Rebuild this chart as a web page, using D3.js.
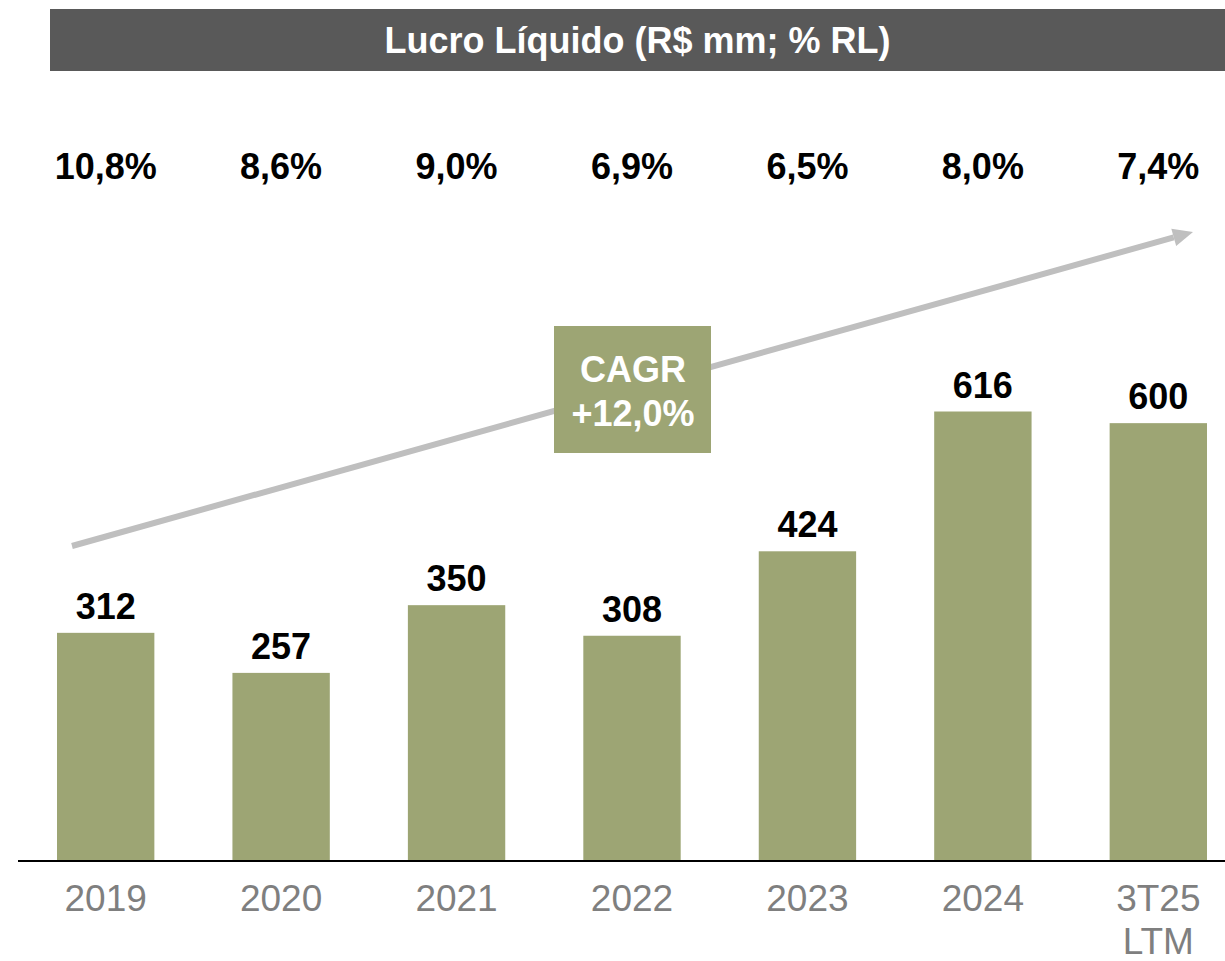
<!DOCTYPE html>
<html>
<head>
<meta charset="utf-8">
<script src="https://cdn.jsdelivr.net/npm/d3@7/dist/d3.min.js"></script>
<style>
  html, body { margin: 0; padding: 0; background: #fff; }
  svg { display: block; font-family: Arial, "Liberation Sans", sans-serif; }
</style>
</head>
<body>
<svg id="chart" width="1225" height="961"></svg>
<script>
const title = "Lucro Líquido (R$ mm; % RL)";
const categories = ["2019", "2020", "2021", "2022", "2023", "2024", "3T25 LTM"];
const categoryLines = [["2019"], ["2020"], ["2021"], ["2022"], ["2023"], ["2024"], ["3T25", "LTM"]];
const netIncome = [312, 257, 350, 308, 424, 616, 600];
const marginLabels = ["10,8%", "8,6%", "9,0%", "6,9%", "6,5%", "8,0%", "7,4%"];
const cagrLines = ["CAGR", "+12,0%"];

const W = 1225, H = 961;
const green = "#9DA574";
const svg = d3.select("#chart");

const x = d3.scaleBand().domain(categories).range([57, 1207]).paddingInner(0.445).paddingOuter(0);
const y = d3.scaleLinear().domain([0, 616]).range([860, 411.5]);
const cx = d => x(d) + x.bandwidth() / 2;

// Title bar
svg.append("rect").attr("x", 50).attr("y", 9).attr("width", W - 50).attr("height", 62).attr("fill", "#595959");
svg.append("text").attr("x", (50 + W) / 2).attr("y", 53).attr("text-anchor", "middle")
  .attr("fill", "#fff").attr("font-weight", "bold").attr("font-size", 36).text(title);

// Margin labels
svg.append("g").selectAll("text").data(categories).join("text")
  .attr("x", cx)
  .attr("y", 179)
  .attr("text-anchor", "middle").attr("font-weight", "bold").attr("font-size", 36).attr("fill", "#000")
  .text((d, i) => marginLabels[i]);

// Trend arrow
const ax0 = x(categories[0]) + 15, ay0 = 546;
const ax1 = x(categories[categories.length - 1]) + x.bandwidth() - 14, ay1 = 232;
const ang = Math.atan2(ay1 - ay0, ax1 - ax0);
const headLen = 20, headW = 9;
const bx = ax1 - headLen * Math.cos(ang), by = ay1 - headLen * Math.sin(ang);
svg.append("line").attr("x1", ax0).attr("y1", ay0).attr("x2", bx).attr("y2", by)
  .attr("stroke", "#BFBFBF").attr("stroke-width", 6);
svg.append("path")
  .attr("d", `M${ax1},${ay1} L${bx - headW * Math.sin(ang)},${by + headW * Math.cos(ang)} L${bx + headW * Math.sin(ang)},${by - headW * Math.cos(ang)} Z`)
  .attr("fill", "#BFBFBF");

// Bars
svg.append("g").selectAll("rect").data(categories).join("rect")
  .attr("x", d => x(d)).attr("width", x.bandwidth())
  .attr("y", (d, i) => y(netIncome[i])).attr("height", (d, i) => y(0) - y(netIncome[i]))
  .attr("fill", green);

// Value labels
svg.append("g").selectAll("text").data(categories).join("text")
  .attr("x", cx)
  .attr("y", (d, i) => y(netIncome[i]) - 14)
  .attr("text-anchor", "middle").attr("font-weight", "bold").attr("font-size", 36).attr("fill", "#000")
  .text((d, i) => netIncome[i]);

// CAGR box
svg.append("rect").attr("x", 554).attr("y", 326).attr("width", 157).attr("height", 127).attr("fill", green);
svg.append("g").selectAll("text").data(cagrLines).join("text")
  .attr("x", 633).attr("y", (d, i) => 382 + i * 44)
  .attr("text-anchor", "middle").attr("font-weight", "bold").attr("font-size", 36).attr("fill", "#fff")
  .text(d => d);

// Axis baseline
svg.append("line").attr("x1", 18).attr("x2", W).attr("y1", 861).attr("y2", 861)
  .attr("stroke", "#000").attr("stroke-width", 2);

// Category labels
const cat = svg.append("g").selectAll("text").data(categories).join("text")
  .attr("x", cx).attr("y", 911)
  .attr("text-anchor", "middle").attr("font-size", 37).attr("fill", "#7F7F7F");
cat.each(function(d, i) {
  const t = d3.select(this);
  categoryLines[i].forEach((ln, j) => {
    t.append("tspan").attr("x", cx(d)).attr("dy", j === 0 ? 0 : 43).text(ln);
  });
});
</script>
</body>
</html>
